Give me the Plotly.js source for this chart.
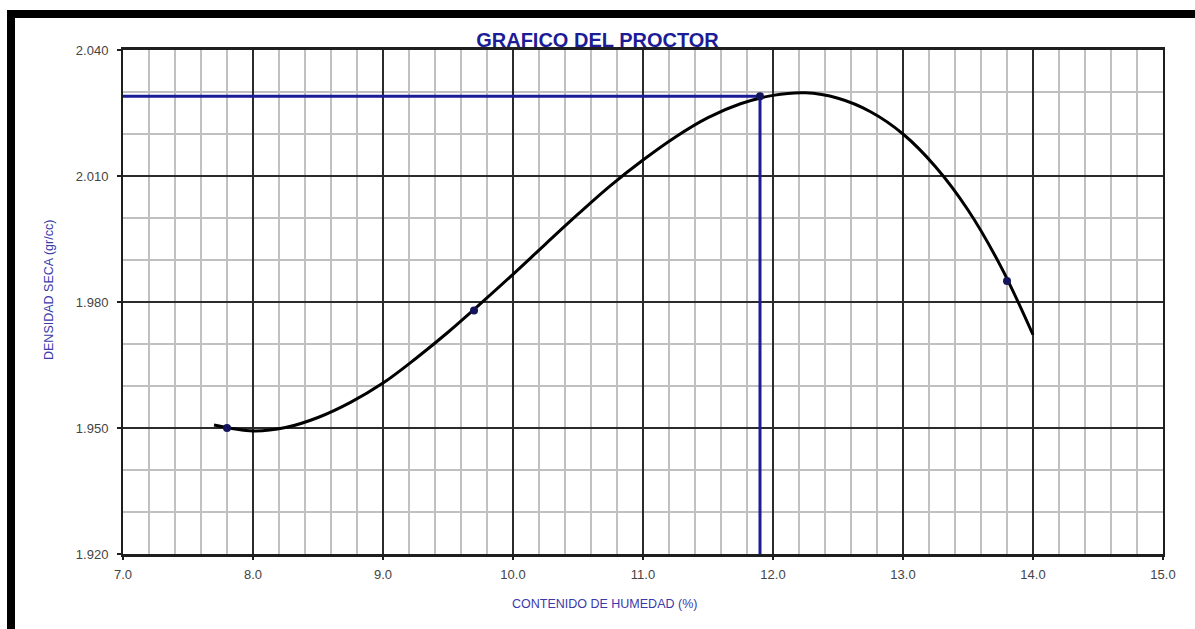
<!DOCTYPE html>
<html>
<head>
<meta charset="utf-8">
<script src="https://cdn.plot.ly/plotly-3.0.1.min.js"></script>
<style>
  html, body { margin: 0; padding: 0; background: #ffffff; }
  #chart { width: 1195px; height: 629px; }
</style>
</head>
<body>
<div id="chart"></div>
<script>
// Ensayo Proctor: puntos medidos
const humedad = [7.8, 9.7, 11.9, 13.8];
const densidad = [1.950, 1.978, 2.029, 1.985];

// Curva de compactación trazada por los puntos
const curvaHumedad = [7.7, 8.0, 8.25, 8.5, 8.75, 9.0, 9.25, 9.5, 9.75, 10.0, 10.25, 10.5, 10.75, 11.0, 11.25, 11.5, 11.75, 12.0, 12.25, 12.5, 12.75, 13.0, 13.25, 13.5, 13.75, 14.0];
const curvaDensidad = [1.9507, 1.9493, 1.9501, 1.9525, 1.9561, 1.9607, 1.9665, 1.9728, 1.9796, 1.9866, 1.9938, 2.0009, 2.0077, 2.0138, 2.0193, 2.0239, 2.0272, 2.0292, 2.0298, 2.0285, 2.0253, 2.0200, 2.0122, 2.0019, 1.9886, 1.9722];

// Humedad óptima y densidad seca máxima
const humedadOptima = 11.9;
const densidadMaxima = 2.029;

// Rango de los ejes
const rangoX = [7.0, 15.0];
const rangoY = [1.920, 2.040];

const azul = '#1c1c96';
const fuente = 'Liberation Sans, Arial, sans-serif';

const traces = [
  {
    x: [rangoX[0], humedadOptima, humedadOptima],
    y: [densidadMaxima, densidadMaxima, rangoY[0]],
    mode: 'lines',
    line: { color: azul, width: 3 },
    hoverinfo: 'skip',
    cliponaxis: false
  },
  {
    x: curvaHumedad,
    y: curvaDensidad,
    mode: 'lines',
    line: { color: '#000000', width: 3, shape: 'spline', smoothing: 1 },
    hoverinfo: 'skip'
  },
  {
    x: humedad,
    y: densidad,
    mode: 'markers',
    marker: { color: '#14145a', size: 8 }
  }
];

// Marco negro (bordes superior e izquierdo)
const L = 123, R = 1163, T = 50, B = 554;
const px = v => (v - L) / (R - L);
const py = v => (B - v) / (B - T);

const layout = {
  width: 1195,
  height: 629,
  showlegend: false,
  paper_bgcolor: '#ffffff',
  plot_bgcolor: '#ffffff',
  margin: { l: L, r: 1195 - R, t: T, b: 629 - B },
  title: {
    text: 'GRAFICO DEL PROCTOR',
    font: { family: fuente, size: 20, color: azul, weight: 'bold' },
    x: 0.5, xref: 'container', xanchor: 'center',
    y: 1 - 47 / 629, yref: 'container', yanchor: 'bottom'
  },
  xaxis: {
    range: rangoX,
    dtick: 1,
    tickformat: '.1f',
    showgrid: true,
    gridcolor: '#2b2b2b',
    gridwidth: 2,
    minor: { dtick: 0.2, showgrid: true, gridcolor: '#c0c0c0', gridwidth: 2 },
    showline: true, mirror: true, linecolor: '#1e1e1e', linewidth: 3,
    ticks: 'outside', ticklen: 3, tickwidth: 2, tickcolor: '#1e1e1e',
    ticklabelstandoff: 3,
    tickfont: { family: fuente, size: 13, color: '#444444' },
    zeroline: false,
    fixedrange: true
  },
  yaxis: {
    range: rangoY,
    dtick: 0.03,
    tick0: 1.92,
    tickformat: '.3f',
    showgrid: true,
    gridcolor: '#2b2b2b',
    gridwidth: 2,
    minor: { dtick: 0.01, showgrid: true, gridcolor: '#c0c0c0', gridwidth: 2 },
    showline: true, mirror: true, linecolor: '#1e1e1e', linewidth: 2,
    ticks: 'outside', ticklen: 4, tickwidth: 2, tickcolor: '#1e1e1e',
    ticklabelstandoff: 6,
    tickfont: { family: fuente, size: 13, color: '#444444' },
    zeroline: false,
    fixedrange: true
  },
  annotations: [
    {
      text: 'CONTENIDO DE HUMEDAD (%)',
      xref: 'paper', yref: 'paper',
      x: px(604), y: py(604),
      xanchor: 'center', yanchor: 'middle',
      showarrow: false,
      font: { family: fuente, size: 12.5, color: '#3a3aaa' }
    },
    {
      text: 'DENSIDAD SECA (gr/cc)',
      xref: 'paper', yref: 'paper',
      x: px(49), y: py(290),
      xanchor: 'center', yanchor: 'middle',
      textangle: -90,
      showarrow: false,
      font: { family: fuente, size: 12.5, color: '#3a3aaa' }
    }
  ],
  shapes: [
    {
      type: 'rect', xref: 'paper', yref: 'paper', layer: 'above',
      x0: px(7), x1: px(1195), y0: py(18), y1: py(10),
      fillcolor: '#000000', line: { width: 0 }
    },
    {
      type: 'rect', xref: 'paper', yref: 'paper', layer: 'above',
      x0: px(7), x1: px(15), y0: py(629), y1: py(10),
      fillcolor: '#000000', line: { width: 0 }
    }
  ]
};

Plotly.newPlot('chart', traces, layout, { displayModeBar: false, staticPlot: true });
</script>
</body>
</html>
